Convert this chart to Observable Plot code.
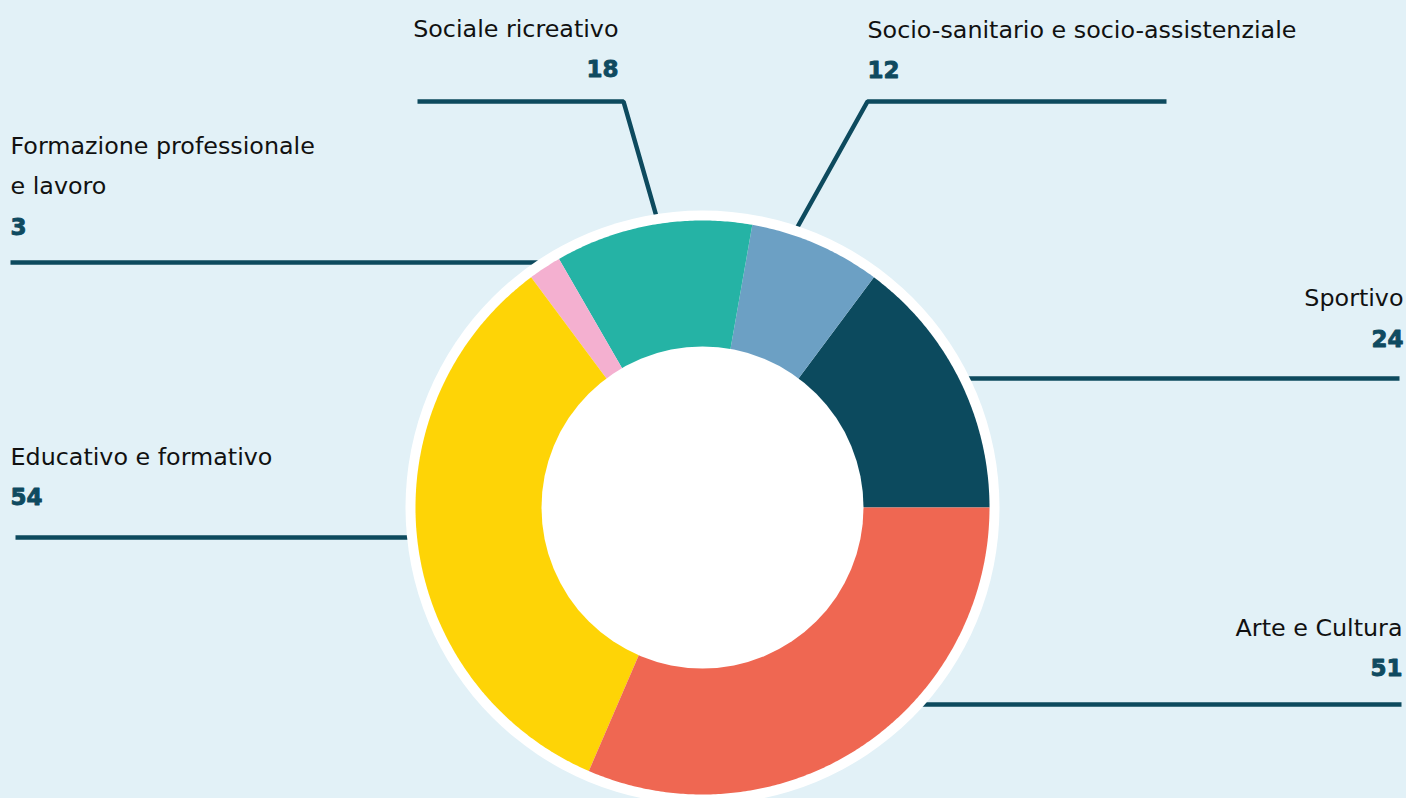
<!DOCTYPE html>
<html><head><meta charset="utf-8">
<script src="https://cdn.jsdelivr.net/npm/d3@7"></script>
<script src="https://cdn.jsdelivr.net/npm/@observablehq/plot@0.6"></script>
<style>html,body{margin:0;padding:0;background:#e2f1f7;overflow:hidden}</style>
</head><body><div id="chart"></div>
<script>
// ---- data ----
const categories = ["Sportivo", "Socio-sanitario e socio-assistenziale", "Sociale ricreativo", "Formazione professionale\ne lavoro", "Educativo e formativo", "Arte e Cultura"];
const values = [24, 12, 18, 3, 54, 51];
const colors = ["#0c4a5e", "#6ca0c4", "#25b3a5", "#f4b0d0", "#fed406", "#ef6752"];

// ---- layout ----
const W = 1406, H = 798, cx = 702, cy = 507, rOuter = 287, rInner = 161, rRing = 297;
const labelAnchor = ["end", "start", "end", "start", "start", "end"];
const labelX = [1403, 867, 618, 10, 10, 1402];
const labelBase = [305, 37, 36, 193, 464, 635];
const numberBase = [346, 77, 76, 234, 504, 675];
const leaders = [
  [[1399, 378], [900, 378]],
  [[1166, 101], [867, 101], [790, 239]],
  [[417, 101], [623, 101], [660, 230]],
  [[10, 262], [560, 262]],
  [[15, 537], [500, 537]],
  [[1401, 704], [900, 704]]
];

const total = d3.sum(values);
const slices = [];
let acc = 0;
values.forEach((v, i) => {
  const a0 = acc / total * 2 * Math.PI, a1 = (acc + v) / total * 2 * Math.PI;
  acc += v;
  const n = Math.max(4, Math.ceil((a1 - a0) / (Math.PI / 360)));
  slices.push({cat: categories[i], x: cx, y: cy});
  for (let k = 0; k <= n; k++) {
    const a = a0 + (a1 - a0) * k / n;
    slices.push({cat: categories[i], x: cx + rOuter * Math.cos(a), y: cy - rOuter * Math.sin(a)});
  }
});
const leaderPts = leaders.flatMap((pts, i) => pts.map(([x, y]) => ({cat: categories[i], x, y})));
const labels = categories.map((c, i) => ({cat: c, anchor: labelAnchor[i], x: labelX[i], yl: labelBase[i], yn: numberBase[i], value: values[i]}));

const fontL = 23.8, fontN = 23;
const plot = Plot.plot({
  width: W, height: H, margin: 0,
  x: {domain: [0, W], range: [0, W], axis: null},
  y: {domain: [0, H], range: [0, H], axis: null},
  color: {domain: categories, range: colors},
  style: {background: "transparent", fontFamily: "DejaVu Sans"},
  marks: [
    Plot.line(leaderPts, {x: "x", y: "y", z: "cat", stroke: "#0d4a5e", strokeWidth: 4.5, strokeLinecap: "butt", strokeLinejoin: "miter", curve: "linear"}),
    Plot.dot([cx], {x: () => cx, y: () => cy, r: rRing, fill: "white", stroke: "none"}),
    Plot.line(slices, {x: "x", y: "y", z: "cat", fill: "cat", stroke: "none", curve: "linear-closed"}),
    Plot.dot([cx], {x: () => cx, y: () => cy, r: rInner, fill: "white", stroke: "none"}),
    ...["start", "end"].flatMap(anchor => [
      Plot.text(labels.filter(d => d.anchor === anchor), {x: "x", y: "yl", text: "cat", textAnchor: anchor, lineAnchor: "bottom", lineHeight: 40 / fontL, fontSize: fontL, fill: "#111", fontFamily: "DejaVu Sans"}),
      Plot.text(labels.filter(d => d.anchor === anchor), {x: "x", y: "yn", text: d => String(d.value), textAnchor: anchor, lineAnchor: "bottom", fontSize: fontN, fontWeight: "bold", fill: "#0f4a60", stroke: "#0f4a60", strokeWidth: 0.9, fontFamily: "DejaVu Sans"})
    ])
  ]
});
document.getElementById("chart").appendChild(plot);
</script>
</body></html>
